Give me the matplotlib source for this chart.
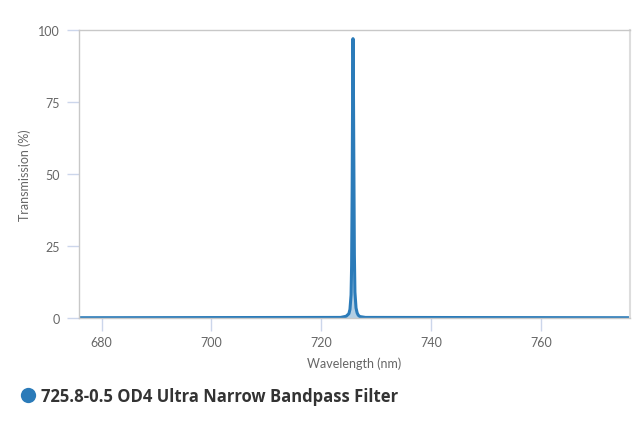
import numpy as np
import matplotlib
matplotlib.use("Agg")
import matplotlib.pyplot as plt
from matplotlib.lines import Line2D

# transmission curve
wavelength = [676.0, 723.5, 724.5, 725.0, 725.2, 725.4, 725.5, 725.6, 725.7, 725.75,
              725.8, 725.9, 726.0, 726.1, 726.3, 726.5, 726.7, 727.0, 728.0, 776.0]
transmission = [0.1, 0.2, 0.6, 1.5, 3.0, 8.0, 18.0, 45.0, 85.0, 97.0,
                90.0, 55.0, 22.0, 9.0, 3.5, 1.8, 1.0, 0.5, 0.2, 0.1]

x_ticks = [680, 700, 720, 740, 760]
y_ticks = [0, 25, 50, 75, 100]
series_name = "725.8-0.5 OD4 Ultra Narrow Bandpass Filter"

line_color = "#2b7bb9"
fill_color = "#b3cfe4"
tick_color = "#666666"
axis_color = "#ccd6eb"

fig = plt.figure(figsize=(6.4, 4.27), dpi=100)
ax = fig.add_axes([0.1234, 0.2529, 0.8606, 0.6745])

ax.fill_between(wavelength, transmission, 0, color=fill_color, lw=0)
ax.plot(wavelength, transmission, color=line_color, lw=2.2, solid_joinstyle="round")

ax.set_xlim(675.9, 776.1)
ax.set_ylim(0, 100)
ax.set_xticks(x_ticks)
ax.set_yticks(y_ticks)

for side in ["left", "top", "right", "bottom"]:
    ax.spines[side].set_color("#c8c8c8")
    ax.spines[side].set_linewidth(1.0)
ax.spines["right"].set_color("#dddddd")
ax.spines["right"].set_linewidth(1.5)

ax.tick_params(axis="both", colors=axis_color, length=9, width=1,
               labelcolor=tick_color, labelsize=9)
ax.tick_params(axis="x", pad=4)
ax.tick_params(axis="y", pad=5)
for lab in ax.get_xticklabels() + ax.get_yticklabels():
    lab.set_fontfamily("Lato")

ax.set_xlabel("Wavelength (nm)", fontsize=9, color=tick_color, family="Lato", labelpad=6)
ax.set_ylabel("Transmission (%)", fontsize=9, color=tick_color, family="Lato", labelpad=5)

# legend drawn by hand below the plot
fig.add_artist(Line2D([28 / 640], [1 - 396 / 427], marker="o", markersize=11,
                      color=line_color, markeredgewidth=0, transform=fig.transFigure))
txt = fig.text(41 / 640, 1 - 397 / 427, series_name, fontsize=11, fontweight="bold",
               color="#333333", family="Open Sans", va="center", ha="left")
# stretch the font size so the label spans the same width as the reference
fig.canvas.draw()
w = txt.get_window_extent().width
txt.set_fontsize(11 * 357 / w)

fig.savefig("out.png", dpi=100)
